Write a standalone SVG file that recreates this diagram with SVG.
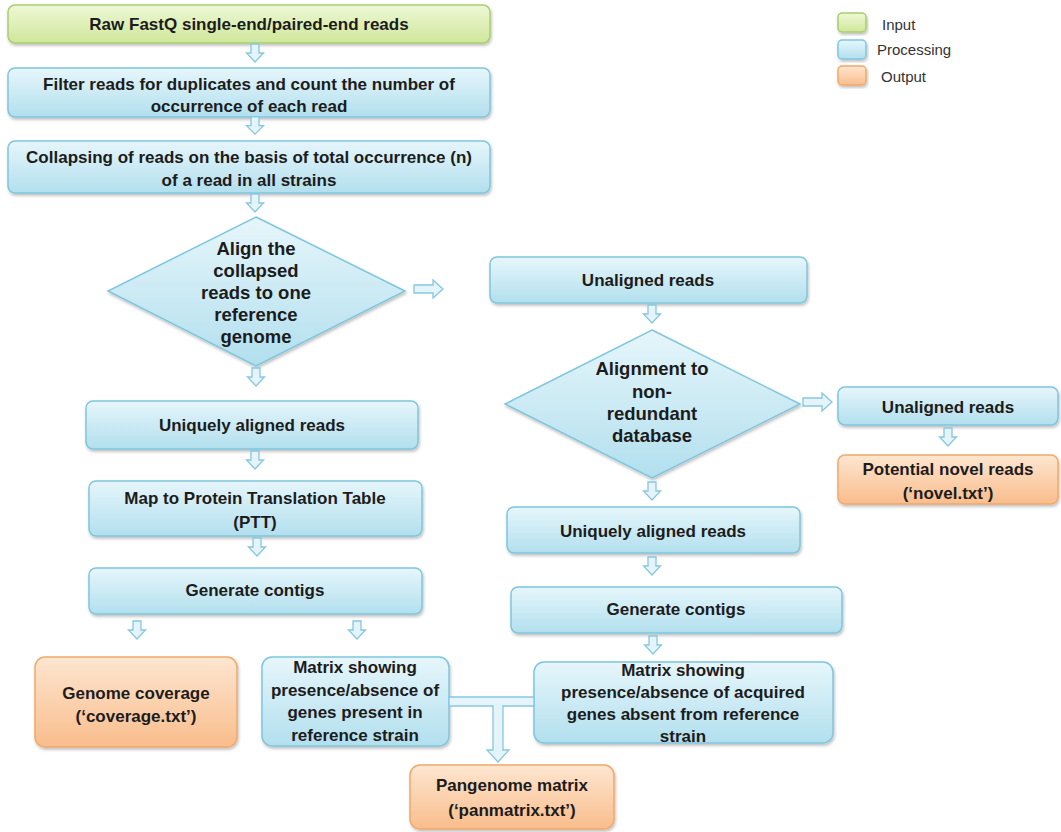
<svg xmlns="http://www.w3.org/2000/svg" xmlns:xlink="http://www.w3.org/1999/xlink" width="1061" height="832" viewBox="0 0 1061 832">
<defs>
<linearGradient id="gBlue" x1="0" y1="0" x2="0" y2="1"><stop offset="0" stop-color="#e6f6fb"/><stop offset="1" stop-color="#b2dfee"/></linearGradient>
<linearGradient id="gGreen" x1="0" y1="0" x2="0" y2="1"><stop offset="0" stop-color="#eef8d6"/><stop offset="1" stop-color="#cfe79a"/></linearGradient>
<linearGradient id="gOrange" x1="0" y1="0" x2="0" y2="1"><stop offset="0" stop-color="#fde6d0"/><stop offset="1" stop-color="#f9bd8c"/></linearGradient>
<filter id="sh" x="-10%" y="-10%" width="120%" height="130%"><feDropShadow dx="1" dy="2" stdDeviation="1.5" flood-color="#000" flood-opacity="0.25"/></filter>
<path id="ad" d="M-4,0 h8 v9 h4.5 l-8.5,9 l-8.5,-9 h4.5 z"/>
<path id="ar" d="M0,-4 h19 v-5 l10,9 l-10,9 v-5 h-19 z"/>
</defs>
<style>
.b{fill:url(#gBlue);stroke:#7fc6dd;stroke-width:1.5;filter:url(#sh)}
.g{fill:url(#gGreen);stroke:#a9cd6d;stroke-width:1.5;filter:url(#sh)}
.o{fill:url(#gOrange);stroke:#f0a96a;stroke-width:1.5;filter:url(#sh)}
.t{font-family:"Liberation Sans",Arial,sans-serif;font-weight:bold;font-size:17px;fill:#1c1c1c;text-anchor:middle}
.dt{font-size:18.5px}
.l{font-family:"Liberation Sans",Arial,sans-serif;font-size:15px;fill:#333}
.ar{fill:#e4f4fa;stroke:#86c8de;stroke-width:1.3}
</style>

<g id="legend">
<rect x="838" y="13" width="28" height="19" rx="4" class="g"/>
<rect x="838" y="40" width="28" height="19" rx="4" class="b"/>
<rect x="838" y="66" width="28" height="19" rx="4" class="o"/>
<text x="882" y="30" class="l">Input</text>
<text x="877" y="55" class="l">Processing</text>
<text x="881" y="82" class="l">Output</text>
</g>

<g id="n1"><rect x="8" y="5" width="482" height="38" rx="7" class="g"/><text x="249" y="30" class="t">Raw FastQ single-end/paired-end reads</text></g>
<g id="n2"><rect x="8" y="68" width="482" height="49" rx="7" class="b"/><text x="249" y="90" class="t">Filter reads for duplicates and count the number of</text><text x="249" y="112" class="t">occurrence of each read</text></g>
<g id="n3"><rect x="8" y="141" width="482" height="52" rx="7" class="b"/><text x="249" y="163" class="t">Collapsing of reads on the basis of total occurrence (n)</text><text x="249" y="186" class="t">of a read in all strains</text></g>
<g id="d1"><polygon points="256,217 405,291 256,366 108,291" class="b"/>
<text class="t dt"><tspan x="256" y="255">Align the</tspan><tspan x="256" y="277">collapsed</tspan><tspan x="256" y="299">reads to one</tspan><tspan x="256" y="321">reference</tspan><tspan x="256" y="343">genome</tspan></text></g>
<g id="n4"><rect x="86" y="401" width="332" height="48" rx="7" class="b"/><text x="252" y="431" class="t">Uniquely aligned reads</text></g>
<g id="n5"><rect x="89" y="481" width="333" height="55" rx="7" class="b"/><text x="255" y="504" class="t">Map to Protein Translation Table</text><text x="255" y="528" class="t">(PTT)</text></g>
<g id="n6"><rect x="89" y="568" width="333" height="46" rx="7" class="b"/><text x="255" y="596" class="t">Generate contigs</text></g>
<g id="n7"><rect x="35" y="657" width="202" height="90" rx="10" class="o"/><text x="136" y="699" class="t">Genome coverage</text><text x="136" y="722" class="t">(‘coverage.txt’)</text></g>
<g id="n8"><rect x="262" y="657" width="187" height="89" rx="10" class="b"/><text class="t"><tspan x="355" y="673">Matrix showing</tspan><tspan x="355" y="696">presence/absence of</tspan><tspan x="355" y="718">genes present in</tspan><tspan x="355" y="741">reference strain</tspan></text></g>
<g id="n9"><rect x="490" y="257" width="317" height="46" rx="7" class="b"/><text x="648" y="286" class="t">Unaligned reads</text></g>
<g id="d2"><polygon points="652,330 800,404 652,478 505,404" class="b"/>
<text class="t dt"><tspan x="652" y="375">Alignment to</tspan><tspan x="652" y="398">non-</tspan><tspan x="652" y="420">redundant</tspan><tspan x="652" y="442">database</tspan></text></g>
<g id="n10"><rect x="838" y="387" width="220" height="38" rx="7" class="b"/><text x="948" y="413" class="t">Unaligned reads</text></g>
<g id="n11"><rect x="838" y="455" width="220" height="49" rx="7" class="o"/><text x="948" y="475" class="t">Potential novel reads</text><text x="948" y="499" class="t">(‘novel.txt’)</text></g>
<g id="n12"><rect x="507" y="507" width="293" height="46" rx="7" class="b"/><text x="653" y="537" class="t">Uniquely aligned reads</text></g>
<g id="n13"><rect x="511" y="587" width="331" height="46" rx="7" class="b"/><text x="676" y="615" class="t">Generate contigs</text></g>
<g id="n14"><rect x="534" y="662" width="299" height="81" rx="10" class="b"/><text class="t"><tspan x="683" y="676">Matrix showing</tspan><tspan x="683" y="698">presence/absence of acquired</tspan><tspan x="683" y="720">genes absent from reference</tspan><tspan x="683" y="742">strain</tspan></text></g>
<g id="n15"><rect x="410" y="765" width="204" height="64" rx="10" class="o"/><text x="512" y="791" class="t">Pangenome matrix</text><text x="512" y="816" class="t">(‘panmatrix.txt’)</text></g>

<g id="connectors" class="ar">
<use xlink:href="#ad" transform="translate(255,44)"/>
<use xlink:href="#ad" transform="translate(255,117) scale(1,0.95)"/>
<use xlink:href="#ad" transform="translate(255,194)"/>
<use xlink:href="#ad" transform="translate(256,368)"/>
<use xlink:href="#ad" transform="translate(255,451)"/>
<use xlink:href="#ad" transform="translate(257,538)"/>
<use xlink:href="#ad" transform="translate(137,621)"/>
<use xlink:href="#ad" transform="translate(357,621)"/>
<use xlink:href="#ar" transform="translate(414,289)"/>
<use xlink:href="#ad" transform="translate(652,305)"/>
<use xlink:href="#ar" transform="translate(803,402)"/>
<use xlink:href="#ad" transform="translate(948,428)"/>
<use xlink:href="#ad" transform="translate(652,482)"/>
<use xlink:href="#ad" transform="translate(652,557)"/>
<use xlink:href="#ad" transform="translate(653,636)"/>
<path d="M449,697 H534 V706 H503 V750 H509 L498,762 L487,750 H493 V706 H449 Z"/>
</g>
</svg>
